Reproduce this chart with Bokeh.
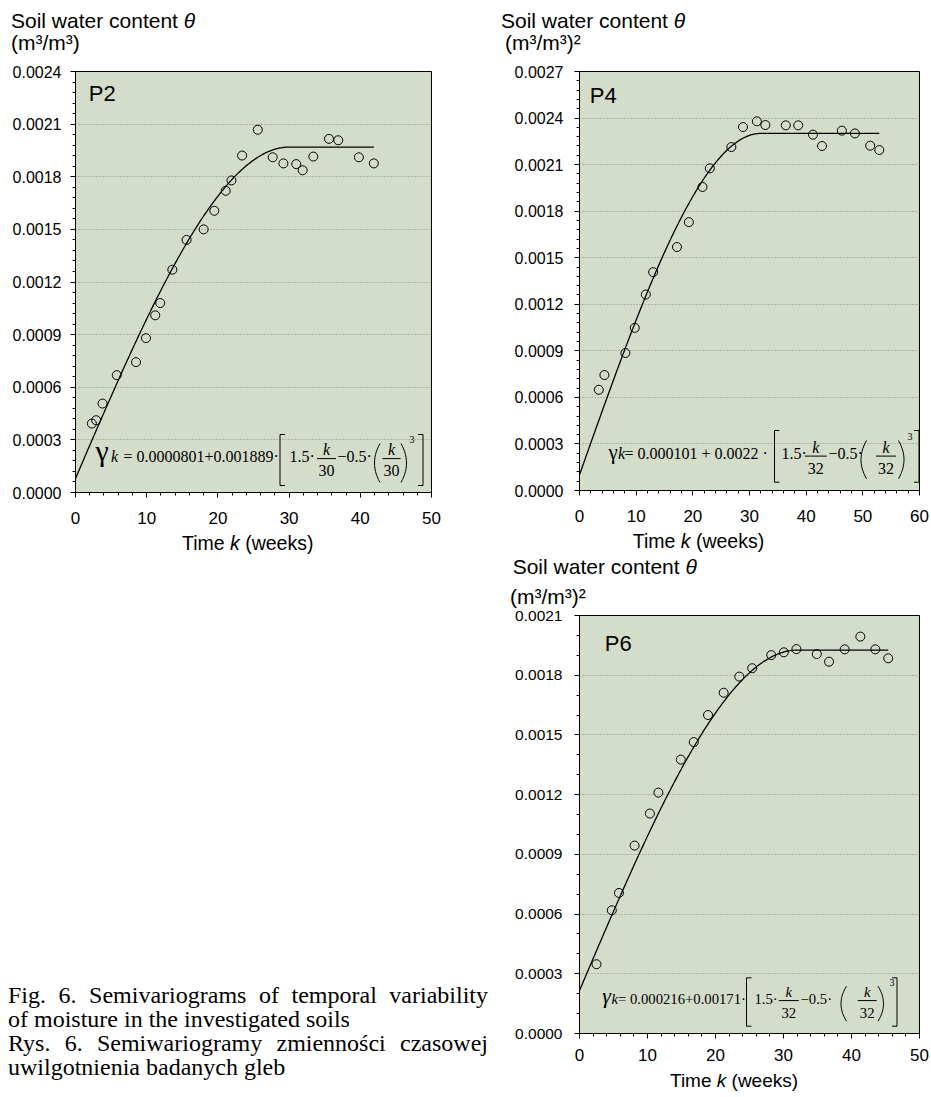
import numpy as np
from bokeh.plotting import figure
from bokeh.models import (Label, Arrow, ColumnDataSource, FixedTicker,
                          NumeralTickFormatter, Div, Spacer)
from bokeh.layouts import row, column
from bokeh.embed import file_html
from bokeh.resources import INLINE

# ---------------- data ----------------
p2_k = [2.3, 2.9, 3.8, 5.8, 8.5, 9.9, 11.2, 11.9, 13.6, 15.6, 18.0, 19.5, 21.1,
        21.9, 23.4, 25.6, 27.7, 29.2, 31.0, 31.9, 33.4, 35.6, 36.9, 39.8, 41.9]
p2_gamma = [0.000393, 0.000412, 0.000507, 0.000669, 0.000743, 0.000880, 0.001010,
            0.001080, 0.001270, 0.001440, 0.001500, 0.001606, 0.001720, 0.001779,
            0.001921, 0.002068, 0.001911, 0.001876, 0.001872, 0.001837, 0.001915,
            0.002016, 0.002008, 0.001911, 0.001876]

p4_k = [3.4, 4.4, 8.1, 9.75, 11.7, 13.0, 17.2, 19.3, 21.7, 23.0, 26.8, 28.85,
        31.3, 32.8, 36.4, 38.6, 41.2, 42.8, 46.3, 48.6, 51.3, 52.9]
p4_gamma = [0.000649, 0.000744, 0.000886, 0.001048, 0.001263, 0.001407, 0.001569,
            0.001729, 0.001956, 0.002076, 0.002213, 0.002342, 0.002379, 0.002355,
            0.002353, 0.002353, 0.002293, 0.002220, 0.002319, 0.002301, 0.002222,
            0.002194]

p6_k = [2.5, 4.75, 5.8, 8.1, 10.35, 11.6, 14.9, 16.8, 18.9, 21.2, 23.5, 25.4,
        28.2, 30.05, 31.9, 34.9, 36.7, 39.0, 41.3, 43.5, 45.4]
p6_gamma = [0.000348, 0.000619, 0.000706, 0.000944, 0.001105, 0.001210, 0.001376,
            0.001464, 0.001600, 0.001712, 0.001793, 0.001835, 0.001901, 0.001915,
            0.001931, 0.001906, 0.001868, 0.001930, 0.001994, 0.001930, 0.001885]

# spherical model parameters printed in the panels (nugget, partial sill, range)
p2_model = (0.0000801, 0.001889, 30)
p4_model = (0.000101, 0.0022, 32)
p6_model = (0.000216, 0.00171, 32)

# ticks
p2_xticks = [0, 10, 20, 30, 40, 50]
p4_xticks = [0, 10, 20, 30, 40, 50, 60]
p6_xticks = [0, 10, 20, 30, 40, 50]
p2_yticks = [0.0, 0.0003, 0.0006, 0.0009, 0.0012, 0.0015, 0.0018, 0.0021, 0.0024]
p4_yticks = [0.0, 0.0003, 0.0006, 0.0009, 0.0012, 0.0015, 0.0018, 0.0021, 0.0024, 0.0027]
p6_yticks = [0.0, 0.0003, 0.0006, 0.0009, 0.0012, 0.0015, 0.0018, 0.0021]

# texts
y_title = "Soil water content <i>θ</i>"
p2_unit = "(m³/m³)"
p46_unit = "(m³/m³)²"
x_title = "Time <i>k</i> (weeks)"
caption_lines = ["Fig. 6. Semivariograms of temporal variability",
                 "of moisture in the investigated soils",
                 "Rys. 6. Semiwariogramy zmienności czasowej",
                 "uwilgotnienia badanych gleb"]

BG = "#D4DCCA"
SANS = "Liberation Sans"
SERIF = "Liberation Serif"
COMP = 0.37  # baseline compensation for Label text (fraction of font size)


def minor(lo, hi, step):
    n = int(round((hi - lo) / step))
    return [round(lo + i * step, 7) for i in range(n + 1)]


def spherical(k, c0, c, a):
    h = np.minimum(np.asarray(k) / a, 1.0)
    return c0 + c * (1.5 * h - 0.5 * h ** 3)


def txt(p, x, y, text, size, font=SANS, style="normal", align="left"):
    p.add_layout(Label(x=x, y=y + COMP * size, x_units="screen", y_units="screen",
                       text=text, text_font=font, text_font_size=f"{size}px",
                       text_font_style=style, text_align=align,
                       text_baseline="alphabetic", text_color="black"))


def html_div(width, height, spans):
    inner = ""
    for (x, y, t, fs) in spans:
        inner += (f'<span style="position:absolute;left:{x}px;top:{y}px;'
                  f'font-family:Liberation Sans;font-size:{fs}px;line-height:{fs}px;'
                  f'white-space:nowrap;color:#000">{t}</span>')
    return Div(text=f'<div style="position:relative;width:{width}px;height:{height}px">'
                    f'{inner}</div>', width=width, height=height, margin=0)


def panel(width, height, left, right, top, bottom, xmax, ymax, xticks, xminor,
          yticks, yminor, ysize, xsize, ystand, xstand):
    p = figure(width=width, height=height, x_range=(0, xmax), y_range=(0, ymax),
               title=None, output_backend="svg", toolbar_location=None,
               min_border_left=left, min_border_right=right,
               min_border_top=top, min_border_bottom=bottom,
               background_fill_color=BG, border_fill_color="white",
               outline_line_color="black", outline_line_width=1)
    p.xaxis.ticker = FixedTicker(ticks=xticks, minor_ticks=xminor)
    p.yaxis.ticker = FixedTicker(ticks=yticks, minor_ticks=yminor)
    p.yaxis.formatter = NumeralTickFormatter(format="0.0000")
    for ax, fs, st in ((p.xaxis, xsize, xstand), (p.yaxis, ysize, ystand)):
        ax.axis_line_color = "black"
        ax.axis_line_width = 1
        ax.major_tick_line_color = "black"
        ax.minor_tick_line_color = "black"
        ax.major_tick_out = 5
        ax.major_tick_in = 0
        ax.minor_tick_out = 3
        ax.minor_tick_in = 0
        ax.major_label_text_font = SANS
        ax.major_label_text_font_size = f"{fs}px"
        ax.major_label_text_color = "black"
        ax.major_label_standoff = int(st)
    p.xgrid.grid_line_color = None
    p.ygrid.ticker = FixedTicker(ticks=yticks)
    p.ygrid.grid_line_color = "#8a8a8a"
    p.ygrid.grid_line_dash = "1 2"
    p.ygrid.grid_line_width = 1
    return p


def add_data(p, k, g, model):
    kk = np.linspace(0, max(k), 300)
    p.line(kk, spherical(kk, *model), line_color="black", line_width=1.3)
    p.scatter(k, g, marker="circle", size=9, fill_color=None,
              line_color="black", line_width=1)


def formula(p, s):
    b = s["base"]
    fs = s["size"]
    x0, y0, x1, y1 = [], [], [], []

    def seg(a, bb, c, d):
        x0.append(a); y0.append(bb); x1.append(c); y1.append(d)

    txt(p, s["g_x"], b, "γ", s["g_size"], SERIF, s["g_style"])
    txt(p, s["k_x"], b, "k", fs, SERIF, "italic")
    txt(p, s["lead_x"], b, s["lead"], fs, SERIF)
    txt(p, s["one5_x"], b, "1.5·", fs, SERIF)
    txt(p, s["minus_x"], b, "−0.5·", fs, SERIF)
    for cx, hw in ((s["f1"], s["f1hw"]), (s["f2"], s["f2hw"])):
        txt(p, cx, b + 6.5, "k", fs, SERIF, style="italic", align="center")
        txt(p, cx, b - 14.5, s["a"], fs, SERIF, align="center")
        seg(cx - hw, b + 3.4, cx + hw, b + 3.4)
    txt(p, s["sup_x"], s["sup_y"], "3", 10, SERIF)
    # square brackets
    lb, rb, bt, bb_ = s["lb"], s["rb"], s["br_top"], s["br_bot"]
    seg(lb, bt, lb, bb_); seg(lb, bt, lb + 5, bt); seg(lb, bb_, lb + 5, bb_)
    seg(rb, bt, rb, bb_); seg(rb, bt, rb - 5, bt); seg(rb, bb_, rb - 5, bb_)
    # parentheses
    t = np.linspace(-1, 1, 15)
    pb, pt = s["par_bot"], s["par_top"]
    ys = (pb + pt) / 2 + t * (pt - pb) / 2
    for xe, sgn in ((s["lp"], 1), (s["rp"], -1)):
        xs = xe + sgn * 5.5 * t ** 2
        for i in range(len(t) - 1):
            seg(float(xs[i]), float(ys[i]), float(xs[i + 1]), float(ys[i + 1]))
    src = ColumnDataSource(dict(x0=x0, y0=y0, x1=x1, y1=y1))
    p.add_layout(Arrow(x_start="x0", y_start="y0", x_end="x1", y_end="y1",
                       start_units="screen", end_units="screen", start=None, end=None,
                       source=src, line_color="black", line_width=1))


# ---------------- P2 ----------------
t2 = html_div(490, 61, [(11, 9.5, y_title, 21), (11, 32.2, p2_unit, 21)])
p2 = panel(490, 471, 75, 59, 10, 40, 50, 0.0024, p2_xticks, minor(0, 50, 2),
           p2_yticks, minor(0, 0.0024, 0.00006), 16, 17, 9, 14)
add_data(p2, p2_k, p2_gamma, p2_model)
txt(p2, 13.3, 421 - 30, "P2", 22)
formula(p2, dict(base=30.5, size=16, g_x=20, g_size=30, g_style="normal", k_x=35.5,
                 lead_x=48, lead="= 0.0000801+0.001889·", one5_x=214, minus_x=262,
                 f1=251, f1hw=9.5, f2=316, f2hw=9, a="30", sup_x=334, sup_y=49,
                 lb=204.5, rb=347.5, br_top=58, br_bot=7, lp=299, rp=331,
                 par_bot=10, par_top=49))
x2 = html_div(490, 28, [(182, 2.0, x_title, 19.5)])

# ---------------- P4 ----------------
t4 = html_div(439, 61, [(11, 9.5, y_title, 21), (15, 31.5, p46_unit, 21)])
p4 = panel(439, 469, 77, 10, 10, 40, 60, 0.0027, p4_xticks, minor(0, 60, 2),
           p4_yticks, minor(0, 0.0027, 0.00006), 16, 17, 11, 14)
add_data(p4, p4_k, p4_gamma, p4_model)
txt(p4, 10.3, 419 - 31.7, "P4", 22)
formula(p4, dict(base=31, size=16, g_x=29, g_size=21, g_style="normal", k_x=38.5,
                 lead_x=45, lead="= 0.000101 + 0.0022 ·", one5_x=202, minus_x=249,
                 f1=236.3, f1hw=11, f2=306.5, f2hw=10, a="32", sup_x=328, sup_y=50,
                 lb=195, rb=339.5, br_top=60, br_bot=8.3, lp=281.5, rp=324.5,
                 par_bot=11.7, par_top=50))
x4 = html_div(439, 26, [(142.7, 1.5, x_title, 19.5)])

# ---------------- P6 ----------------
t6 = html_div(439, 52, [(22.7, 0.2, y_title, 21), (20, 29.9, p46_unit, 21)])
p6 = panel(439, 461, 89, 10, 7, 36, 50, 0.0021, p6_xticks, minor(0, 50, 2),
           p6_yticks, minor(0, 0.0021, 0.0001), 15.5, 17, 12, 10)
add_data(p6, p6_k, p6_gamma, p6_model)
txt(p6, 25.3, 418 - 36, "P6", 22)
formula(p6, dict(base=29.5, size=14.7, g_x=22.7, g_size=22, g_style="italic", k_x=32,
                 lead_x=38.5, lead="= 0.000216+0.00171·", one5_x=175, minus_x=221,
                 f1=209.3, f1hw=10, f2=287.7, f2hw=9.5, a="32", sup_x=310, sup_y=47,
                 lb=167, rb=317.5, br_top=55.7, br_bot=7.3, lp=261.5, rp=304,
                 par_bot=12.3, par_top=47.3))
x6 = html_div(439, 26, [(180, 1.9, x_title, 19)])

# ---------------- caption ----------------
just = "text-align:justify;text-align-last:justify"
caption_html = (
    "<div style=\"position:relative;width:490px;height:100px\">"
    "<div style=\"position:absolute;left:8px;top:0px;box-sizing:content-box;"
    "width:480px;font-family:Liberation Serif;font-size:24px;line-height:24px;"
    "color:#000;margin:0;padding:0\">"
    f"<div style=\"{just}\">{caption_lines[0]}</div>"
    f"<div>{caption_lines[1]}</div>"
    f"<div style=\"{just}\">{caption_lines[2]}</div>"
    f"<div>{caption_lines[3]}</div></div></div>")
caption = Div(text=caption_html, width=490, height=100, margin=0)

layout = row(column(t2, p2, x2, Spacer(width=490, height=423), caption),
             column(t4, p4, x4, t6, p6, x6))

open("out.html", "w").write(file_html(layout, INLINE))
